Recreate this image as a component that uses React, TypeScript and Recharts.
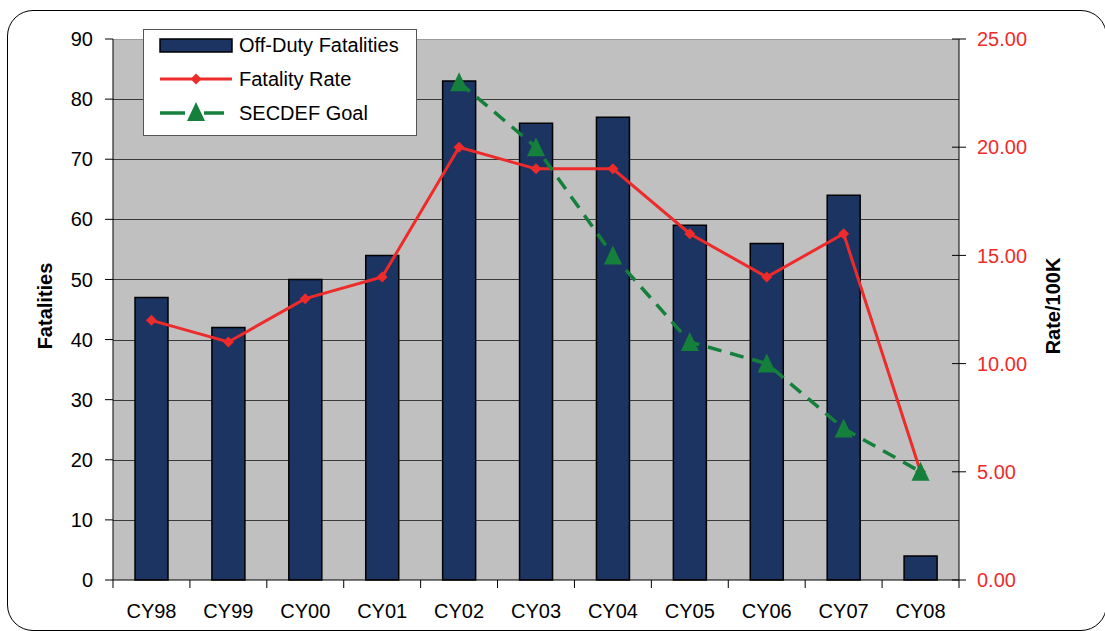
import React from 'react'
import { ComposedChart, Bar, Line, XAxis, YAxis, Legend } from 'recharts'

const categories = ['CY98', 'CY99', 'CY00', 'CY01', 'CY02', 'CY03', 'CY04', 'CY05', 'CY06', 'CY07', 'CY08']
const fatalities = [47, 42, 50, 54, 83, 76, 77, 59, 56, 64, 4]
const fatalityRate = [12, 11, 13, 14, 20, 19, 19, 16, 14, 16, 5]
const secdefGoal: (number | null)[] = [null, null, null, null, 23, 20, 15, 11, 10, 7, 5]
const leftTicks = [0, 10, 20, 30, 40, 50, 60, 70, 80, 90]
const rightTicks = [0, 5, 10, 15, 20, 25]

const data = categories.map((c, i) => ({
  cat: c,
  fatalities: fatalities[i],
  rate: fatalityRate[i],
  goal: secdefGoal[i],
}))

const W = 1105
const H = 631
const LEFT_W = 113
const RIGHT_W = 146
const TOP = 39
const X_H = 51
const PLOT_RIGHT = W - RIGHT_W
const PLOT_BOTTOM = H - X_H
const BAND = (PLOT_RIGHT - LEFT_W) / categories.length
const LEFT_MAX = 90

const FONT = '"Liberation Sans", Arial, sans-serif'
const NAVY = '#1b3461'
const RED = '#ee2b2b'
const GREEN = '#15803c'

const Diamond = (props: any) => {
  const { cx, cy } = props
  if (cx == null || cy == null) return null
  return <path d={`M${cx},${cy - 5.5}L${cx + 5.5},${cy}L${cx},${cy + 5.5}L${cx - 5.5},${cy}Z`} fill={RED} />
}

const Triangle = (props: any) => {
  const { cx, cy } = props
  if (cx == null || cy == null || props.value == null) return null
  return <path d={`M${cx},${cy - 10}L${cx + 9},${cy + 9}L${cx - 9},${cy + 9}Z`} fill={GREEN} />
}

const XTick = (props: any) => {
  const { x, payload, index } = props
  const last = index === categories.length - 1
  return (
    <g>
      <line x1={x - BAND / 2} x2={x - BAND / 2} y1={PLOT_BOTTOM} y2={PLOT_BOTTOM + 8} stroke="#000" />
      {last && <line x1={x + BAND / 2} x2={x + BAND / 2} y1={PLOT_BOTTOM} y2={PLOT_BOTTOM + 8} stroke="#000" />}
      <text x={x} y={618} textAnchor="middle" fontSize={20} fontFamily={FONT} fill="#000">
        {payload.value}
      </text>
    </g>
  )
}

const RightTick = (props: any) => {
  const { y, payload } = props
  return (
    <g>
      <line x1={PLOT_RIGHT - 7} x2={PLOT_RIGHT + 7} y1={y} y2={y} stroke="#000" />
      <text x={977} y={y} dy="0.355em" textAnchor="start" fontSize={20} fontFamily={FONT} fill={RED}>
        {Number(payload.value).toFixed(2)}
      </text>
    </g>
  )
}

const LegendBox = () => (
  <svg width={274} height={107} style={{ display: 'block' }}>
    <rect x={0.5} y={0.5} width={273} height={106} fill="#fff" stroke="#555" />
    <rect x={17} y={10} width={72} height={13} fill={NAVY} stroke="#000" strokeWidth={1.5} />
    <text x={96} y={23} fontSize={20} fontFamily={FONT} fill="#000">Off-Duty Fatalities</text>
    <line x1={17} x2={89} y1={50} y2={50} stroke={RED} strokeWidth={3} />
    <Diamond cx={53} cy={50} />
    <text x={96} y={57} fontSize={20} fontFamily={FONT} fill="#000">Fatality Rate</text>
    <line x1={17} x2={42} y1={84} y2={84} stroke={GREEN} strokeWidth={3.5} />
    <line x1={61} x2={81} y1={84} y2={84} stroke={GREEN} strokeWidth={3.5} />
    <Triangle cx={53} cy={83} value={1} />
    <text x={96} y={91} fontSize={20} fontFamily={FONT} fill="#000">SECDEF Goal</text>
  </svg>
)

// gray plot area with grid rows at the left-axis ticks, painted behind the svg
const PlotBackground = () => {
  const h = PLOT_BOTTOM - TOP
  return (
    <div
      style={{
        position: 'absolute',
        left: LEFT_W,
        top: TOP,
        width: PLOT_RIGHT - LEFT_W,
        height: h,
        background: '#c0c0c0',
      }}
    >
      {leftTicks.slice(1).map((t) => (
        <div
          key={t}
          style={{
            position: 'absolute',
            left: 0,
            right: 0,
            top: Math.round(h * (1 - t / LEFT_MAX)),
            height: 1,
            background: t === LEFT_MAX ? '#9a9a9a' : '#3a3a3a',
          }}
        />
      ))}
    </div>
  )
}

export default function App() {
  return (
    <div style={{ position: 'absolute', left: 0, top: 0, width: W, height: H, background: '#fff', overflow: 'hidden' }}>
      <div
        style={{
          position: 'absolute',
          left: 7,
          top: 10,
          width: 1100,
          height: 621,
          border: '1.5px solid #000',
          borderRadius: 26,
          boxSizing: 'border-box',
        }}
      />
      <PlotBackground />
      <ComposedChart width={W} height={H} data={data} margin={{ top: TOP, right: 0, bottom: 0, left: 0 }} barSize={33}>
        <XAxis
          dataKey="cat"
          height={X_H}
          axisLine={{ stroke: '#000' }}
          tickLine={false}
          tick={<XTick />}
          interval={0}
        />
        <YAxis
          yAxisId="left"
          width={LEFT_W}
          domain={[0, LEFT_MAX]}
          ticks={leftTicks}
          interval={0}
          axisLine={{ stroke: '#000' }}
          tickLine={{ stroke: '#000' }}
          tickSize={8}
          tickMargin={12}
          tick={{ fontSize: 20, fontFamily: FONT, fill: '#000' }}
          label={() => (
            <text
              x={45}
              y={306}
              transform="rotate(-90, 45, 306)"
              textAnchor="middle"
              dominantBaseline="central"
              fontSize={20}
              fontWeight="bold"
              fontFamily={FONT}
              fill="#000"
            >
              Fatalities
            </text>
          )}
        />
        <YAxis
          yAxisId="right"
          orientation="right"
          width={RIGHT_W}
          domain={[0, 25]}
          ticks={rightTicks}
          interval={0}
          axisLine={{ stroke: '#000' }}
          tickLine={false}
          tick={<RightTick />}
          label={() => (
            <text
              x={1053}
              y={306}
              transform="rotate(-90, 1053, 306)"
              textAnchor="middle"
              dominantBaseline="central"
              fontSize={20}
              fontWeight="bold"
              fontFamily={FONT}
              fill="#000"
            >
              Rate/100K
            </text>
          )}
        />
        <Legend
          layout="horizontal"
          align="center"
          verticalAlign="middle"
          wrapperStyle={{ left: 143, top: 29, width: 274, height: 107 }}
          content={() => <LegendBox />}
        />
        <Bar
          yAxisId="left"
          dataKey="fatalities"
          name="Off-Duty Fatalities"
          fill={NAVY}
          stroke="#000"
          strokeWidth={1.5}
          isAnimationActive={false}
        />
        <Line
          yAxisId="right"
          type="linear"
          dataKey="rate"
          name="Fatality Rate"
          stroke={RED}
          strokeWidth={3}
          dot={<Diamond />}
          activeDot={false}
          isAnimationActive={false}
        />
        <Line
          yAxisId="right"
          type="linear"
          dataKey="goal"
          name="SECDEF Goal"
          stroke={GREEN}
          strokeWidth={3.5}
          strokeDasharray="14 9"
          dot={<Triangle />}
          activeDot={false}
          isAnimationActive={false}
        />
      </ComposedChart>
    </div>
  )
}
